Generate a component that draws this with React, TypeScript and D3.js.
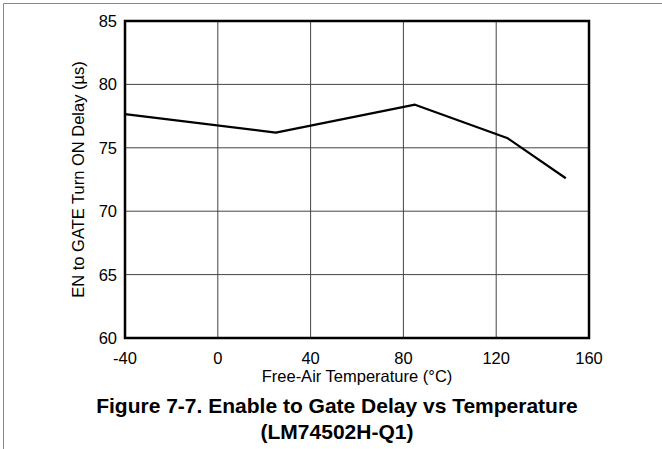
import React from "react";
import * as d3 from "d3";

const temps = [-40, 25, 85, 125, 150];
const delays = [77.65, 76.2, 78.4, 75.75, 72.6];
const xTicks = [-40, 0, 40, 80, 120, 160];
const yTicks = [60, 65, 70, 75, 80, 85];
const xTitle = "Free-Air Temperature (°C)";
const yTitle = "EN to GATE Turn ON Delay (µs)";
const caption1 = "Figure 7-7. Enable to Gate Delay vs Temperature";
const caption2 = "(LM74502H-Q1)";

export default function App() {
  const W = 662, H = 449;
  const left = 125, right = 589, top = 21, bottom = 338;
  const x = d3.scaleLinear().domain([-40, 160]).range([left, right]);
  const y = d3.scaleLinear().domain([60, 85]).range([bottom, top]);
  const line = d3.line<number>().x((_, i) => x(temps[i])).y((d) => y(d));
  const font = "'Liberation Sans', Arial, sans-serif";
  return (
    <svg width={W} height={H} style={{ position: "absolute", left: 0, top: 0 }} fontFamily={font}>
      <rect width={W} height={H} fill="#fff" />
      <line x1={3.5} x2={W} y1={3.5} y2={3.5} stroke="#888" strokeWidth={1} />
      <line x1={3.5} x2={3.5} y1={3.5} y2={H} stroke="#888" strokeWidth={1} />
      {xTicks.slice(1, -1).map((t) => (
        <line key={"gx" + t} x1={x(t)} x2={x(t)} y1={top} y2={bottom} stroke="#444" strokeWidth={1} />
      ))}
      {yTicks.slice(1, -1).map((t) => (
        <line key={"gy" + t} x1={left} x2={right} y1={y(t)} y2={y(t)} stroke="#444" strokeWidth={1} />
      ))}
      <rect x={left} y={top} width={right - left} height={bottom - top} fill="none" stroke="#000" strokeWidth={2.5} />
      <path d={line(delays) || ""} fill="none" stroke="#000" strokeWidth={2.2} strokeLinejoin="round" />
      {xTicks.map((t) => (
        <text key={"tx" + t} x={x(t)} y={364} textAnchor="middle" fontSize={16.5} fill="#000">{t}</text>
      ))}
      {yTicks.map((t) => (
        <text key={"ty" + t} x={117} y={y(t) + 6} textAnchor="end" fontSize={16.5} fill="#000">{t}</text>
      ))}
      <text x={(left + right) / 2} y={382} textAnchor="middle" fontSize={16.5} fill="#000">{xTitle}</text>
      <text transform={`translate(84,${(top + bottom) / 2}) rotate(-90)`} textAnchor="middle" fontSize={16.5} fill="#000">{yTitle}</text>
      <text x={337} y={413} textAnchor="middle" fontSize={21} fontWeight="bold" fill="#000">{caption1}</text>
      <text x={337} y={439} textAnchor="middle" fontSize={21} fontWeight="bold" fill="#000">{caption2}</text>
    </svg>
  );
}
